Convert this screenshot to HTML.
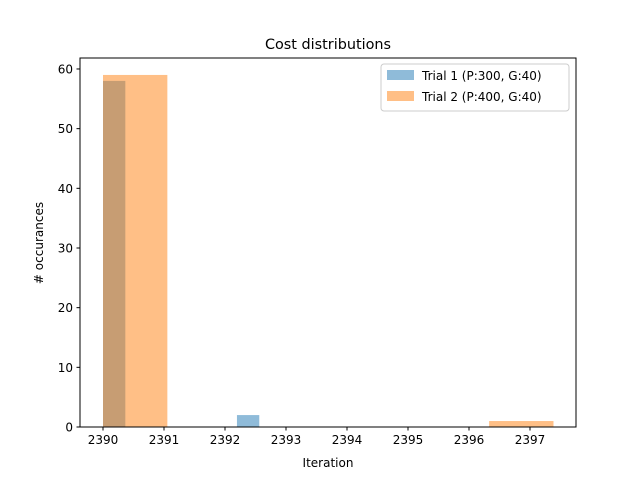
<!DOCTYPE html>
<html><head><meta charset="utf-8"><style>body{margin:0;background:#fff}svg{display:block;font-family:"DejaVu Sans","Liberation Sans",sans-serif}</style></head>
<body>
<svg id="chart" width="640" height="480" viewBox="0 0 640 480">
<rect width="640" height="480" fill="#fff"/>
<g id="bars"></g>
<rect x="80" y="58" width="496" height="369" fill="none" stroke="#000" stroke-width="1"/>
<g id="xticks"></g><g id="yticks"></g>
<text x="328" y="49" text-anchor="middle" font-size="14.4">Cost distributions</text>
<text x="328" y="467" text-anchor="middle" font-size="12">Iteration</text>
<text transform="translate(43,243) rotate(-90)" text-anchor="middle" font-size="12"># occurances</text>
<g>
<rect x="381" y="64" width="188" height="47" rx="3" fill="#fff" fill-opacity="0.8" stroke="#ccc"/>
<g><rect x="387" y="70" width="27" height="10" fill="#1f77b4" fill-opacity="0.5"/><text x="422" y="80" font-size="12">Trial 1 (P:300, G:40)</text></g>
<g><rect x="387" y="91" width="27" height="10" fill="#ff7f0e" fill-opacity="0.5"/><text x="422" y="101" font-size="12">Trial 2 (P:400, G:40)</text></g>
</g>
</svg>
<script>
const t1Start = 2390.0, t1Width = 0.366;
const t1Counts = [58, 0, 0, 0, 0, 0, 2];
const t2Start = 2390.0, t2Width = 1.055;
const t2Counts = [59, 0, 0, 0, 0, 0, 1];
const xTicks = [2390, 2391, 2392, 2393, 2394, 2395, 2396, 2397];
const yTicks = [0, 10, 20, 30, 40, 50, 60];
const NS = "http://www.w3.org/2000/svg";
const xs = v => 103 + (v - 2390) * 61;
const ys = v => 427 - v * 5.967;
const bars = document.getElementById('bars');
function drawSeries(start, w, counts, color, name) {
  counts.forEach((c, i) => {
    if (!c) return;
    const r = document.createElementNS(NS, 'rect');
    const x0 = xs(start + i * w), x1 = xs(start + (i + 1) * w);
    r.setAttribute('x', x0); r.setAttribute('width', x1 - x0);
    r.setAttribute('y', ys(c)); r.setAttribute('height', ys(0) - ys(c));
    r.setAttribute('fill', color); r.setAttribute('fill-opacity', '0.5');
    
    
    bars.appendChild(r);
  });
}
drawSeries(t1Start, t1Width, t1Counts, '#1f77b4', 'trial-1');
drawSeries(t2Start, t2Width, t2Counts, '#ff7f0e', 'trial-2');
const xg = document.getElementById('xticks');
xTicks.forEach(v => {
  const g = document.createElementNS(NS, 'g');
  
  
  g.innerHTML = `<line x1="${xs(v)}" x2="${xs(v)}" y1="427" y2="430.5" stroke="#000"/><text x="${xs(v)}" y="444" text-anchor="middle" font-size="12">${v}</text>`;
  xg.appendChild(g);
});
const yg = document.getElementById('yticks');
yTicks.forEach(v => {
  const g = document.createElementNS(NS, 'g');
  
  
  g.innerHTML = `<line x1="76.5" x2="80" y1="${ys(v)}" y2="${ys(v)}" stroke="#000"/><text x="73" y="${ys(v) + 4.5}" text-anchor="end" font-size="12">${v}</text>`;
  yg.appendChild(g);
});
</script>
</body></html>
